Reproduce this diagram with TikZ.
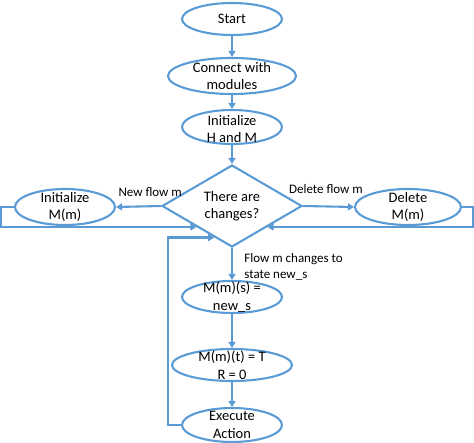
\documentclass[tikz,border=0pt]{standalone}
\usepackage{fontspec}
\setmainfont{Carlito}
\usetikzlibrary{shapes.geometric,arrows.meta,calc}
\definecolor{flowblue}{RGB}{91,155,213}
\begin{document}
\begin{tikzpicture}[x=1pt,y=-1pt,color=flowblue,every path/.append style={line width=2.1pt},
	oval/.style={draw,ellipse,inner sep=0pt},
	decide/.style={draw,diamond,inner sep=0pt,minimum width=140pt,minimum height=82pt},
	txt/.style={text=black,align=center,font=\fontsize{14.5}{17.5}\selectfont},
	lbl/.style={text=black,font=\fontsize{13}{16}\selectfont},
	>={Triangle[length=6pt,width=7pt]}]
\useasboundingbox (0,0) rectangle (474,443);
\node[oval,minimum width=100pt,minimum height=32pt,label={[txt]center:Start}] (start) at (232,19) {};
\node[oval,minimum width=128pt,minimum height=36pt,label={[txt]center:Connect with\\modules}] (connect) at (232,76) {};
\node[oval,minimum width=100pt,minimum height=34pt,label={[txt,yshift=-2pt]center:Initialize\\H and M}] (inithm) at (232,127) {};
\node[decide,label={[txt]center:There are\\changes?}] (changes) at (232,206) {};
\node[oval,minimum width=100pt,minimum height=36pt,label={[txt]center:Initialize\\M(m)}] (initm) at (65,207) {};
\node[oval,minimum width=106pt,minimum height=36pt,label={[txt]center:Delete\\M(m)}] (delm) at (408,207) {};
\node[oval,minimum width=100pt,minimum height=32pt,label={[txt]center:M(m)(s) =\\new\_s}] (mms) at (232,297) {};
\node[oval,minimum width=120pt,minimum height=32pt,label={[txt]center:M(m)(t) = T\\R = 0}] (mmt) at (232,365) {};
\node[oval,minimum width=100pt,minimum height=34pt,label={[txt]center:Execute\\Action}] (exec) at (232,425) {};
\foreach \a/\b in {start/connect,connect/inithm,inithm/changes,mms/mmt,mmt/exec} {
	\draw[->] (\a) -- (\b);
}
\draw[->] (changes.west) -- node[lbl,above=5pt,pos=.24] {New flow m} (initm.east);
\draw[->] (changes.east) -- node[lbl,above=8pt,pos=.45] {Delete flow m} (delm.west);
\draw[->] (changes.south) -- node[lbl,anchor=north west,align=left,pos=0,xshift=8pt,yshift=-1pt] {Flow m changes to\\state new\_s} (mms.north);
\draw[->] (initm.west) -- ++(-13,0) |- (changes.south west);
\draw[->] (delm.east) -- ++(11,0) |- (changes.south east);
\draw[->] (exec.west) -- ++(-13,0) |- ($(changes.south west)!0.5!(changes.south)$);
\end{tikzpicture}
\end{document}
